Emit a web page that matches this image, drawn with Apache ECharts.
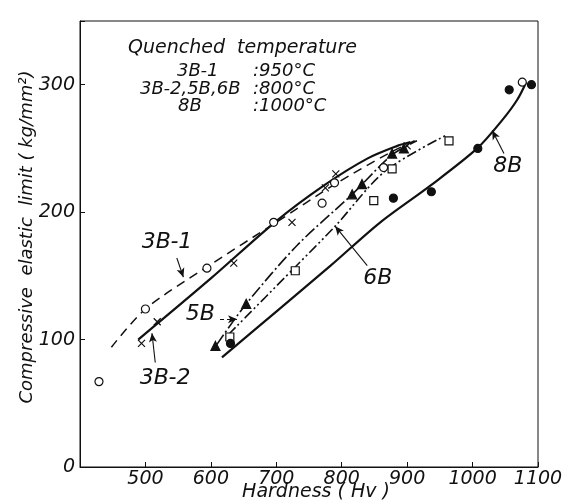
<!DOCTYPE html>
<html>
<head>
<meta charset="UTF-8" />
<title>compressive elastic limit</title>
<script src="https://cdn.jsdelivr.net/npm/echarts@6/dist/echarts.min.js"></script>
<style>
  html, body { margin: 0; padding: 0; background: #fff; }
  #main { width: 562px; height: 502px; }
</style>
</head>
<body>
<div id="main"></div>
<script>
// measured points (hardness Hv, limit kg/mm2)
var circ3B1 = [[429, 67], [500, 124], [594, 156], [696, 192], [770, 207], [789, 223], [864, 235], [1076, 302]];
var cross3B2 = [[494, 97], [518, 114], [635, 160], [724, 192], [775, 219], [791, 230], [900, 252]];
var tri5B = [[607, 95], [654, 128], [816, 214], [831, 222], [877, 246], [895, 250]];
var sq6B = [[629, 102], [729, 154], [849, 209], [877, 234], [964, 256]];
var dot8B = [[630, 97], [879, 211], [937, 216], [1008, 250], [1056, 296], [1090, 300]];

// drawn curves
var fit3B1 = [[448, 94], [500, 124], [594, 157], [700, 192], [790, 222], [875, 247], [920, 258]];
var fit3B2 = [[489, 100], [600, 148], [700, 193], [773, 221], [839, 242], [885, 252], [905, 255]];
var fit5B = [[609, 96], [654, 128], [732, 174], [816, 214], [877, 245], [915, 256]];
var fit6B = [[627, 104], [729, 157], [790, 189], [866, 232], [962, 261]];
var fit8B = [[617, 86], [700, 122], [783, 158], [859, 192], [936, 221], [1007, 250], [1045, 272], [1068, 288], [1082, 302]];

var xTicks = [500, 600, 700, 800, 900, 1000, 1100];
var yTicks = [0, 100, 200, 300];

// curve names with arrows
var notes = [
    { name: '3B-1', at: [533, 176], from: [548, 164], to: [558, 149], dashed: false },
    { name: '3B-2', at: [530, 70], from: [515, 82], to: [510, 105], dashed: false },
    { name: '5B', at: [584, 120], from: [614, 116], to: [640, 116], dashed: true },
    { name: '6B', at: [855, 148], from: [839, 158], to: [790, 189], dashed: false },
    { name: '8B', at: [1054, 236], from: [1048, 246], to: [1030, 264], dashed: false }
];

var ink = '#111';
var font = 'DejaVu Sans';
var myChart = echarts.init(document.getElementById('main'));

function curve(data, type, width) {
    return {
        type: 'line', data: data, smooth: 0.3,
        showSymbol: false, symbol: 'none', silent: true,
        lineStyle: { color: ink, width: width, type: type }
    };
}
function marks(data, symbol, size, fill) {
    return {
        type: 'scatter', data: data, symbol: symbol, symbolSize: size, silent: true,
        itemStyle: { color: fill, borderColor: ink, borderWidth: 1.2, opacity: 1 }, z: 5
    };
}
function txt(s, left, top, size) {
    return { type: 'text', left: left, top: top, style: { text: s, fill: ink, font: 'italic ' + size + 'px "DejaVu Sans"' } };
}

var arrowLines = notes.map(function (n) {
    return [{ coord: n.from, lineStyle: { type: n.dashed ? [4, 3] : 'solid' } }, { coord: n.to }];
});

option = {
    animation: false,
    backgroundColor: '#fff',
    grid: {
        left: 80, right: 24, top: 21, bottom: 35, show: true, borderColor: ink, borderWidth: 1,
        containLabel: false, outerBoundsMode: 'none'
    },
    xAxis: {
        type: 'value', min: 400, max: 1100, interval: 100,
        axisLine: { lineStyle: { color: ink, width: 1 } },
        axisTick: { inside: true, length: 5, lineStyle: { color: ink } },
        splitLine: { show: false },
        axisLabel: {
            color: ink, fontSize: 19, fontStyle: 'italic', fontFamily: font, margin: 3,
            formatter: function (v) { return xTicks.indexOf(v) >= 0 ? String(v) : ''; }
        }
    },
    yAxis: {
        type: 'value', min: 0, max: 350, interval: 100,
        axisLine: { show: true, lineStyle: { color: ink, width: 1 } },
        axisTick: { show: true, inside: true, length: 5, lineStyle: { color: ink } },
        splitLine: { show: false },
        axisLabel: {
            color: ink, fontSize: 19, fontStyle: 'italic', fontFamily: font, margin: 5,
            formatter: function (v) { return yTicks.indexOf(v) >= 0 ? String(v) : ''; }
        }
    },
    graphic: [
        txt('Quenched  temperature', 128, 39, 19),
        txt('3B-1', 177, 62, 18),
        txt(':950°C', 253, 62, 18),
        txt('3B-2,5B,6B', 140, 80, 18),
        txt(':800°C', 253, 80, 18),
        txt('8B', 178, 97, 18),
        txt(':1000°C', 253, 97, 18),
        {
            type: 'text', x: 27, y: 237, rotation: Math.PI / 2,
            style: { text: 'Compressive  elastic  limit ( kg/mm²)', fill: ink, font: 'italic 18px "DejaVu Sans"', align: 'center', verticalAlign: 'middle' }
        },
        {
            type: 'text', x: 316, y: 492,
            style: { text: 'Hardness ( Hv )', fill: ink, font: 'italic 19px "DejaVu Sans"', align: 'center', verticalAlign: 'middle' }
        }
    ],
    series: [
        curve(fit3B1, [9, 6], 1.5),
        curve(fit3B2, 'solid', 2.2),
        curve(fit5B, [12, 3, 2, 3], 1.6),
        curve(fit6B, [10, 3, 2, 3, 2, 3], 1.6),
        curve(fit8B, 'solid', 2.2),
        marks(circ3B1, 'circle', 8, '#fff'),
        marks(cross3B2, 'path://M0,0L10,10M10,0L0,10', 7, 'none'),
        marks(tri5B, 'triangle', 9, ink),
        marks(sq6B, 'rect', 8, '#fff'),
        marks(dot8B, 'circle', 8, ink),
        {
            type: 'scatter', silent: true, symbolSize: 0,
            itemStyle: { opacity: 1 },
            data: notes.map(function (n) { return { name: n.name, value: n.at }; }),
            label: {
                show: true, position: 'inside', formatter: '{b}',
                color: ink, fontSize: 22, fontStyle: 'italic', fontFamily: font
            },
            markLine: {
                silent: true, symbol: ['none', 'arrow'], symbolSize: [6, 9],
                label: { show: false },
                lineStyle: { color: ink, width: 1.1 },
                data: arrowLines
            }
        }
    ]
};

myChart.setOption(option);
</script>
</body>
</html>
